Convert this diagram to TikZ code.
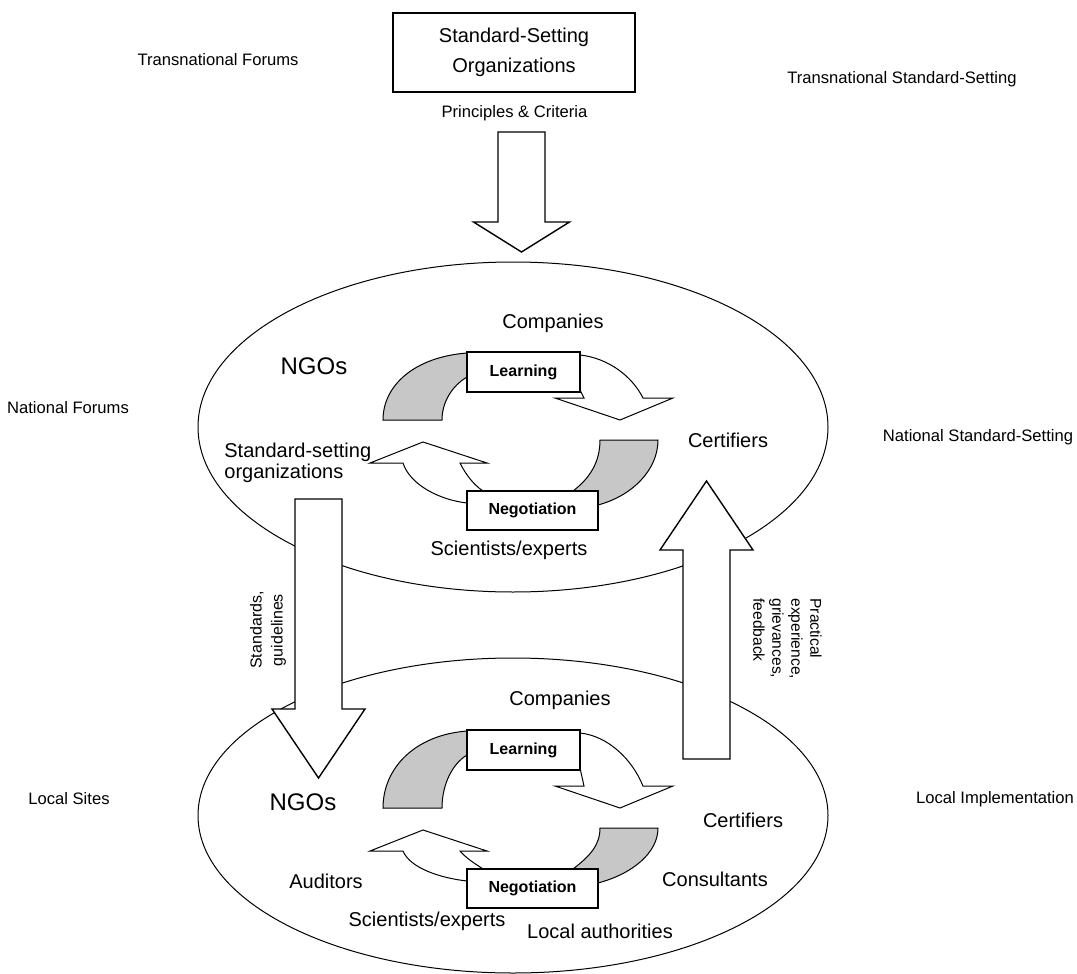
\documentclass[tikz,border=0pt]{standalone}
\usepackage{fontspec}
\setmainfont{Liberation Sans}
\usetikzlibrary{shapes.geometric}

\begin{document}
\begin{tikzpicture}
  [x=0.5pt,y=-0.5pt,line join=miter,
   forum/.style={ellipse,draw,line width=0.5pt,inner sep=0pt},
   lbl/.style={font=\fontsize{10}{10.5}\selectfont,inner sep=0pt},
   ngo/.style={font=\fontsize{12}{14}\selectfont,inner sep=0pt},
   sidelbl/.style={font=\fontsize{8.3}{10}\selectfont,inner sep=0pt},
   stagebox/.style={draw,fill=white,line width=0.7pt,inner sep=0pt,font=\fontsize{8}{10}\selectfont\bfseries},
   blockarrow/.style={draw,fill=white,line width=0.7pt},
   graytail/.style={draw,fill=black!22,line width=0.5pt},
   whitehead/.style={draw,fill=white,line width=0.5pt}]

  \useasboundingbox (0,0) rectangle (1077,974);

  % forums
  \node[forum,minimum width=315pt,minimum height=165pt] (national) at (513,427) {};
  \node[forum,minimum width=315pt,minimum height=157.5pt] (local) at (513,815.5) {};

  % side labels
  \node[sidelbl] (tf)  at (218,60)  {Transnational Forums};
  \node[sidelbl] (tss) at (902,79)  {Transnational Standard-Setting};
  \node[sidelbl] (nf)  at (68,408)  {National Forums};
  \node[sidelbl] (nss) at (978,437) {National Standard-Setting};
  \node[sidelbl] (ls)  at (69,799)  {Local Sites};
  \node[sidelbl] (li)  at (995,799) {Local Implementation};

  % top
  \node[draw,line width=0.7pt,minimum width=121pt,minimum height=39.5pt,align=center,
        font=\fontsize{10}{15}\selectfont] (sso) at (514,52.5) {Standard-Setting\\Organizations};
  \node[sidelbl] (pc) at (514.5,113) {Principles \& Criteria};

  % actors
  \node[lbl] (natComp) at (553,323) {Companies};
  \node[ngo] (natNGO)  at (314,366) {NGOs};
  \node[lbl,align=left,anchor=west] (natSSO) at (224,462.5) {Standard-setting\\organizations};
  \node[lbl] (natCert) at (728,440) {Certifiers};
  \node[lbl] (natSci)  at (509,550) {Scientists/experts};

  \node[lbl] (locComp) at (560,700) {Companies};
  \node[ngo] (locNGO)  at (303,802) {NGOs};
  \node[lbl] (locCert) at (743,820) {Certifiers};
  \node[lbl] (locAud)  at (326,881) {Auditors};
  \node[lbl] (locCons) at (715,879) {Consultants};
  \node[lbl] (locSci)  at (427,921) {Scientists/experts};
  \node[lbl] (locAuth) at (600,931) {Local authorities};

  % learning / negotiation cycles
  \foreach \d/\a/\n in {0/0/nat,378/10/loc}{
    \draw[graytail] (383,{420+\d+\a}) .. controls (383,{385+\d+\a/2}) and (415,{357+\d}) .. (467,{353+\d})
      -- (467,{377+\d}) .. controls (452,{386+\d}) and (442,{402+\d+\a/2}) .. (442,{420+\d+\a}) -- cycle;
    \draw[whitehead] (580,{355+\d}) .. controls (608,{358+\d}) and (632,{376+\d+\a/2}) .. (643,{398+\d+\a})
      -- (673,{398+\d+\a}) -- (620,{420+\d+\a}) -- (555,{398+\d+\a}) -- (584,{398+\d+\a}) -- (580,{390+\d}) -- cycle;
    \draw[graytail] (600,{440+\d+\a}) -- (658,{440+\d+\a}) .. controls (658,{470+\d+\a/2}) and (632,{496+\d}) .. (598,{505+\d})
      -- (573,{505+\d}) -- (573,{491+\d}) .. controls (590,{478+\d}) and (600,{462+\d+\a/2}) .. (600,{440+\d+\a}) -- cycle;
    \draw[whitehead] (467,{503+\d}) .. controls (440,{500+\d}) and (410,{485+\d+\a/2}) .. (403,{463+\d+\a})
      -- (370,{463+\d+\a}) -- (423,{442+\d+\a}) -- (487,{463+\d+\a}) -- (460,{463+\d+\a})
      .. controls (466,{475+\d+\a/2}) and (474,{485+\d}) .. (483,{491+\d}) -- (483,{503+\d}) -- cycle;
    \node[stagebox,minimum width=56.5pt,minimum height=20pt] (learn\n) at (523.5,{372+\d}) {Learning};
    \node[stagebox,minimum width=65.5pt,minimum height=19.5pt] (negot\n) at (532.5,{510.5+\d}) {Negotiation};
  }

  % block arrows
  \coordinate (pcTail) at (521.5,132);
  \coordinate (pcTip)  at (521.5,252);
  \draw[blockarrow] (pcTail) ++(-23.5,0) -- ++(0,90) -- ++(-24.5,0) -- (pcTip)
    -- ++(48,-30) -- ++(-24.5,0) -- ++(0,-90) -- cycle;

  \coordinate (sgTail) at (318.5,499);
  \coordinate (sgTip)  at (318.5,778);
  \draw[blockarrow] (sgTail) ++(-23.5,0) -- ++(0,210) -- ++(-23,0) -- (sgTip)
    -- ++(46.5,-69) -- ++(-23,0) -- ++(0,-210) -- cycle;

  \coordinate (pfTail) at (706.5,759);
  \coordinate (pfTip)  at (706.5,481);
  \draw[blockarrow] (pfTail) ++(-23.5,0) -- ++(0,-209) -- ++(-23,0) -- (pfTip)
    -- ++(46.5,69) -- ++(-23,0) -- ++(0,209) -- cycle;

  \node[font=\fontsize{8}{10.5}\selectfont,inner sep=0pt,align=center,rotate=90] (sgTxt) at (268,630) {Standards,\\guidelines};
  \node[font=\fontsize{7.8}{9.5}\selectfont,inner sep=0pt,align=left,rotate=-90,anchor=north west] (pfTxt) at (822,598)
    {Practical\\experience,\\grievances,\\feedback};

\end{tikzpicture}
\end{document}
